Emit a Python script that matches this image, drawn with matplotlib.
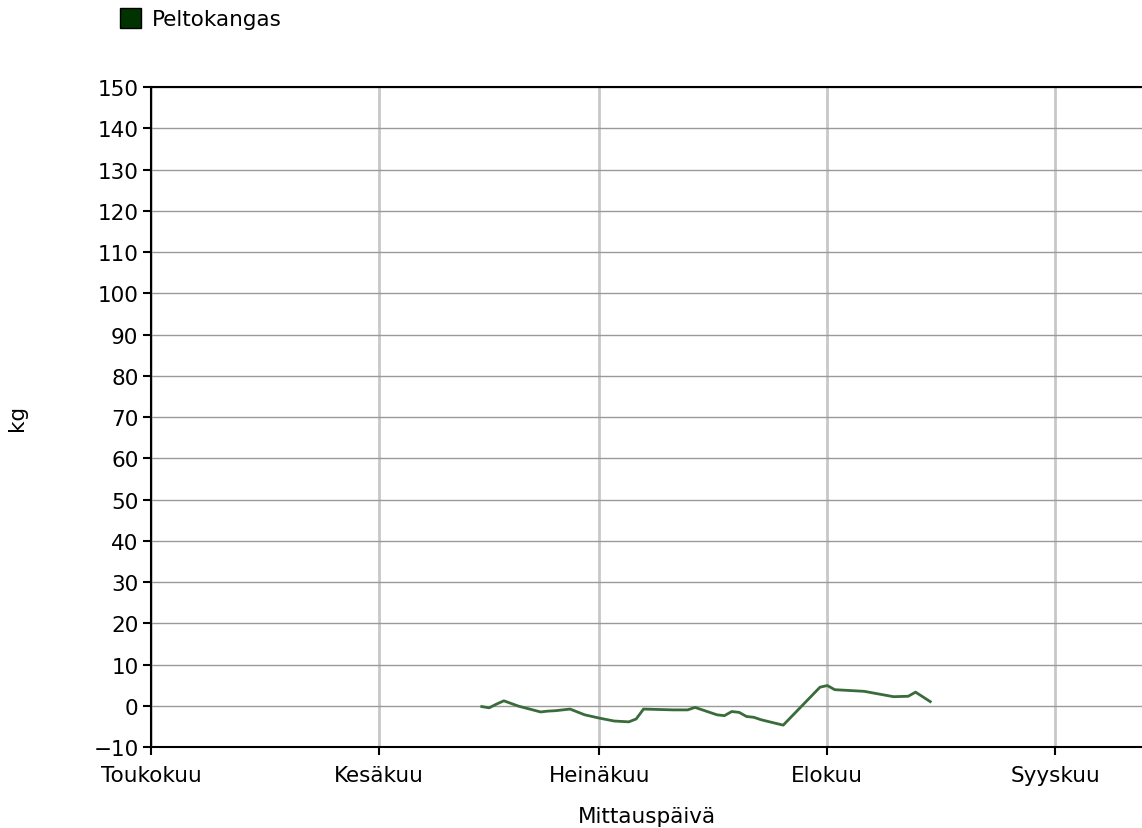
import datetime as dt
import matplotlib
matplotlib.use("Agg")
import matplotlib.pyplot as plt
from matplotlib.patches import Patch

# measurement dates and weight change (kg)
dates = ["2010-06-15", "2010-06-16", "2010-06-17", "2010-06-18", "2010-06-20",
         "2010-06-23", "2010-06-24", "2010-06-25", "2010-06-27", "2010-06-29",
         "2010-07-01", "2010-07-03", "2010-07-05", "2010-07-06", "2010-07-07",
         "2010-07-11", "2010-07-13", "2010-07-14", "2010-07-15", "2010-07-17",
         "2010-07-18", "2010-07-19", "2010-07-20", "2010-07-21", "2010-07-22",
         "2010-07-23", "2010-07-26", "2010-07-31", "2010-08-01", "2010-08-02",
         "2010-08-06", "2010-08-10", "2010-08-12", "2010-08-13", "2010-08-15"]
values = [-0.2, -0.5, 0.4, 1.2, -0.1,
          -1.5, -1.3, -1.2, -0.8, -2.2,
          -3.0, -3.7, -3.9, -3.2, -0.8,
          -1.0, -1.0, -0.4, -1.0, -2.2,
          -2.4, -1.4, -1.6, -2.6, -2.8,
          -3.4, -4.7, 4.5, 4.9, 3.9,
          3.5, 2.2, 2.3, 3.3, 1.0]
month_ticks = ["2010-05-01", "2010-06-01", "2010-07-01", "2010-08-01", "2010-09-01"]
month_labels = ["Toukokuu", "Kesäkuu", "Heinäkuu", "Elokuu", "Syyskuu"]
series_name = "Peltokangas"

x = [dt.datetime.strptime(d, "%Y-%m-%d") for d in dates]
xt = [dt.datetime.strptime(d, "%Y-%m-%d") for d in month_ticks]

FS = 15.5

fig = plt.figure(figsize=(11.42, 8.29), dpi=100)
ax = fig.add_axes([0.1322, 0.0977, 0.8678, 0.7961])

ax.plot(x, values, color="#3a6b3a", linewidth=2.0, zorder=3)

ax.set_ylim(-10, 150)
ax.set_yticks(range(-10, 151, 10))
ax.set_xlim(xt[0], xt[0] + dt.timedelta(days=134.8))
ax.set_xticks(xt)
ax.set_xticklabels(month_labels)

ax.grid(axis="y", color="#9a9a9a", linewidth=1.0)
ax.grid(axis="x", color="#c8c8c8", linewidth=2.0)
ax.set_axisbelow(True)

for s in ["left", "bottom", "top"]:
    ax.spines[s].set_color("black")
    ax.spines[s].set_linewidth(1.5)
ax.spines["right"].set_visible(False)

ax.tick_params(axis="both", labelsize=FS, colors="black", length=6, width=1.5,
               direction="out", pad=3)
ax.tick_params(axis="x", pad=7)

ax.set_xlabel("Mittauspäivä", fontsize=FS, labelpad=15)
ax.set_ylabel("kg", fontsize=FS, labelpad=48)

fig.legend(handles=[Patch(facecolor="#003300", edgecolor="black", label=series_name)],
           loc="upper left", bbox_to_anchor=(0.088, 1.012), frameon=False,
           fontsize=FS, handlelength=1.0, handleheight=1.0, handletextpad=0.5)

fig.savefig("out.png", dpi=100)
